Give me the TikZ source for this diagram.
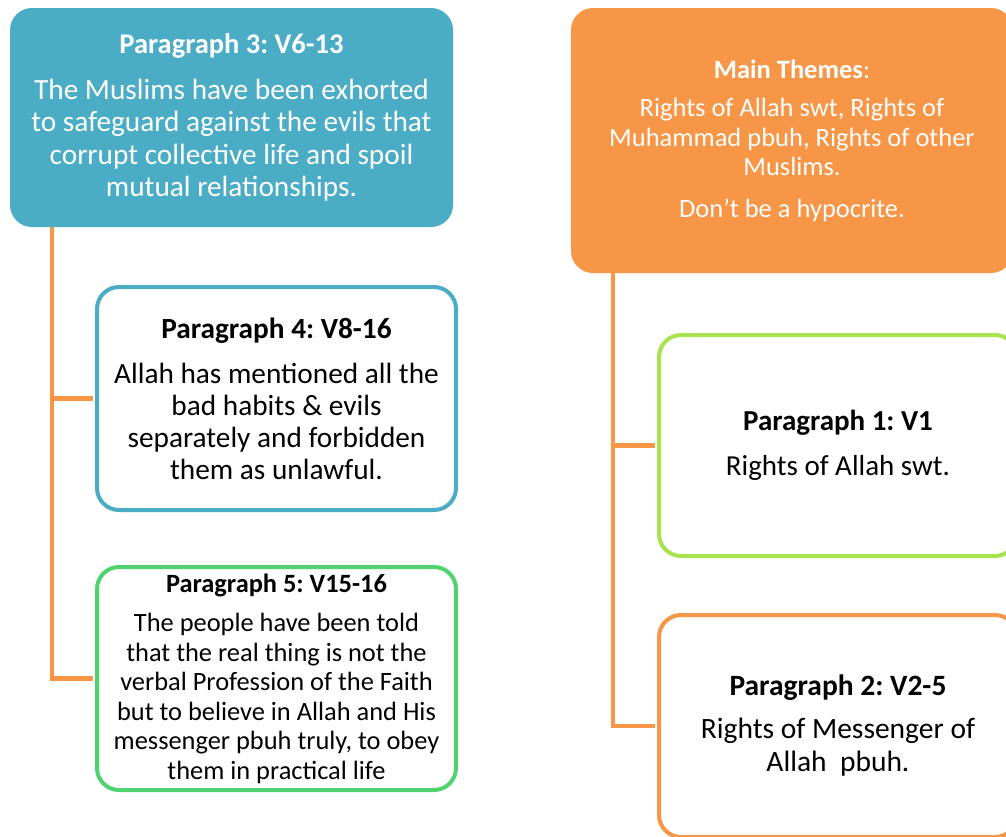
\documentclass[tikz,border=0pt]{standalone}
\usepackage{fontspec}
\setmainfont{Carlito}
\usetikzlibrary{positioning}
\definecolor{aqua}{HTML}{4BACC6}
\definecolor{tang}{HTML}{F79646}
\definecolor{leaf}{HTML}{4FD26F}
\definecolor{lime}{HTML}{A8E24C}

\begin{document}
\frenchspacing
\begin{tikzpicture}[x=1pt, y=-1pt,
  headbox/.style={rounded corners=22pt, align=center, text=white, inner sep=0pt},
  parabox/.style={draw, line width=4pt, fill=white, rounded corners=22pt, align=center,
    inner sep=0pt, minimum width=359pt, minimum height=223pt},
  link/.style={draw=tang, line width=4.5pt}]
\useasboundingbox (0,0) rectangle (1006,836);
\clip (0,0) rectangle (1006,836);

% Paragraph 3 (top left)
\node[headbox, fill=aqua, minimum width=443pt, minimum height=219pt,
  font=\fontsize{29.3}{32.5}\selectfont] (p3) at (231.5,117.5)
  {{\fontsize{28.5}{32.5}\selectfont\textbf{Paragraph 3: V6-13}}\\[13pt]
   The Muslims have been exhorted\\
   to safeguard against the evils that\\
   corrupt collective life and spoil\\
   mutual relationships.};

% Main themes (top right)
\node[headbox, fill=tang, minimum width=442pt, minimum height=265pt,
  font=\fontsize{26.5}{29.5}\selectfont] (main) at (792,140.5)
  {\textbf{Main Themes}:\\[9pt]
   Rights of Allah swt, Rights of\\
   Muhammad pbuh, Rights of other\\
   Muslims.\\[12pt]
   Don’t be a hypocrite.};

% Paragraphs 4 and 5
\node[parabox, draw=aqua, font=\fontsize{29.3}{32}\selectfont] (p4) at (276.5,398.5)
  {\textbf{Paragraph 4: V8-16}\\[13pt]
   Allah has mentioned all the\\
   bad habits \& evils\\
   separately and forbidden\\
   them as unlawful.};
\node[parabox, draw=leaf, font=\fontsize{26.4}{29.5}\selectfont] (p5) at (276.5,678.5)
  {\textbf{Paragraph 5: V15-16}\\[10pt]
   The people have been told\\
   that the real thing is not the\\
   verbal Profession of the Faith\\
   but to believe in Allah and His\\
   messenger pbuh truly, to obey\\
   them in practical life};

% Paragraphs 1 and 2
\node[parabox, draw=lime, minimum width=358pt, minimum height=221pt,
  font=\fontsize{29}{33}\selectfont] (p1) at (838,445.5)
  {\textbf{Paragraph 1: V1}\\[12pt]
   Rights of Allah swt.};
\node[parabox, draw=tang, minimum width=358pt, minimum height=222pt,
  font=\fontsize{29.5}{33}\selectfont] (p2) at (838,726)
  {\textbf{Paragraph 2: V2-5}\\[10pt]
   Rights of Messenger of\\
   Allah\ \ pbuh.};

% Connectors
\draw[link, shorten >=2pt] ([xshift=42pt]p3.south west) |- (p4.west);
\draw[link, shorten >=2pt] ([xshift=42pt]p3.south west) |- (p5.west);
\draw[link, shorten >=2pt] ([xshift=42pt]main.south west) |- (p1.west);
\draw[link, shorten >=2pt] ([xshift=42pt]main.south west) |- (p2.west);
\end{tikzpicture}
\end{document}
